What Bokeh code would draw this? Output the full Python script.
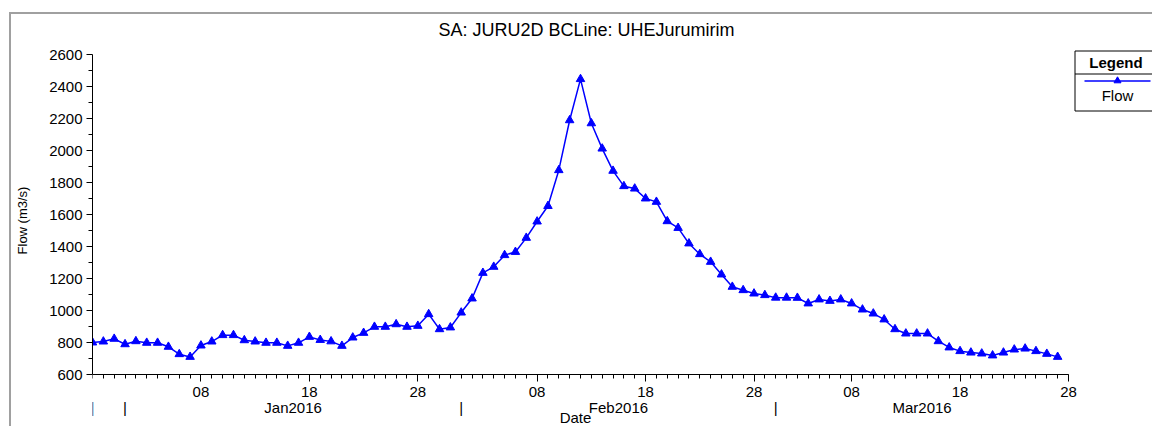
import pandas as pd
from bokeh.plotting import figure
from bokeh.models import (Range1d, FixedTicker, CustomJSTickFormatter, LinearAxis,
                          Label, BoxAnnotation, PolyAnnotation)
from bokeh.embed import file_html
from bokeh.resources import INLINE

# ---- data -------------------------------------------------------------
axis_start = "2015-12-29"
axis_end = "2016-03-28"
first_day = "2015-12-29"
flow = [800, 806, 823, 789, 808, 798, 798, 773, 727, 710,
        781, 806, 846, 846, 814, 806, 798, 798, 779, 798,
        835, 816, 807, 779, 831, 860, 898, 898, 914, 898,
        904, 977, 883, 894, 987, 1075, 1235, 1273, 1346, 1366,
        1454, 1556, 1653, 1877, 2189, 2446, 2170, 2012, 1873, 1777,
        1762, 1700, 1679, 1558, 1516, 1419, 1352, 1304, 1225, 1148,
        1127, 1106, 1096, 1080, 1080, 1079, 1044, 1069, 1060, 1069,
        1044, 1006, 981, 944, 883, 856, 856, 856, 808, 769,
        746, 737, 731, 719, 737, 756, 762, 746, 729, 710]
months = ["2016-01-01", "2016-02-01", "2016-03-01"]
month_names = ["Jan2016", "Feb2016", "Mar2016"]
label_days = [8, 18, 28]
y_lo, y_hi = 600, 2600
y_major = [600, 800, 1000, 1200, 1400, 1600, 1800, 2000, 2200, 2400, 2600]
y_minor = [700, 900, 1100, 1300, 1500, 1700, 1900, 2100, 2300, 2500]

title_text = "SA: JURU2D BCLine: UHEJurumirim"
y_title = "Flow (m3/s)"
x_title = "Date"
legend_title = "Legend"
series_name = "Flow"

# ---- page geometry (pixels from the top-left corner) -------------------
W, H = 1152, 426
LEFT, TOP = 92, 14               # frame starts here and runs to the right/bottom edges
AX_X1 = 1068                     # right end of the date axis
AX_Y_LO, AX_Y_HI = 374, 54       # pixel rows of y_lo and y_hi


def sx(px):
    """page x -> screen offset from the frame's left edge"""
    return px - LEFT


def sy(py):
    """page y -> screen offset from the frame's bottom edge"""
    return H - py


# ---- positions in days from the axis start -----------------------------
t0 = pd.Timestamp(axis_start)
end_off = (pd.Timestamp(axis_end) - t0).days
dates = pd.date_range(first_day, periods=len(flow), freq="D")
x = [int((d - t0).days) for d in dates]

day_pos, day_names = [], []
for m in months:
    for d in label_days:
        off = (pd.Timestamp(m) + pd.Timedelta(days=d - 1) - t0).days
        if 0 <= off <= end_off:
            day_pos.append(int(off))
            day_names.append(f"{d:02d}")

row_pos, row_names = [0.0], ["|"]
m_starts = [(pd.Timestamp(m) - t0).days for m in months]
m_ends = m_starts[1:] + [end_off]
for s, e, name in zip(m_starts, m_ends, month_names):
    row_pos += [float(s), (s + e) / 2.0]
    row_names += ["|", name]

FONT = "Liberation Sans"
BLUE = "#0000ff"
GREY = "#a0a0a0"

px_per_day = (AX_X1 - LEFT) / end_off
px_per_unit = (AX_Y_LO - AX_Y_HI) / (y_hi - y_lo)
x_end = (W - LEFT) / px_per_day
y_start = y_lo - (H - AX_Y_LO) / px_per_unit
y_end = y_lo + (AX_Y_LO - TOP) / px_per_unit

p = figure(width=W, height=H, output_backend="svg", toolbar_location=None,
           title=None, x_range=Range1d(0, x_end), y_range=Range1d(y_start, y_end),
           min_border_left=LEFT, min_border_right=0, min_border_top=TOP,
           min_border_bottom=0, background_fill_color=None,
           border_fill_color=None)
p.outline_line_color = None
p.xgrid.visible = False
p.ygrid.visible = False
# page panel border (left and top edges) behind the transparent canvas
p.styles = {
    "background": (f"linear-gradient({GREY},{GREY}) 9px 12px / 2px 100% no-repeat, "
                   f"linear-gradient({GREY},{GREY}) 9px 12px / 100% 2px no-repeat, "
                   "#ffffff"),
}

# ---- y axis -----------------------------------------------------------
ya = p.yaxis[0]
ya.bounds = (y_lo, y_hi)
ya.ticker = FixedTicker(ticks=y_major, minor_ticks=y_minor)
ya.axis_line_color = "black"
ya.major_tick_line_color = "black"
ya.minor_tick_line_color = "black"
ya.major_tick_in = 0
ya.major_tick_out = 6
ya.minor_tick_in = 0
ya.minor_tick_out = 4
ya.major_label_standoff = 4
ya.major_label_text_font = FONT
ya.major_label_text_font_size = "15px"
ya.major_label_text_color = "black"
ya.axis_label = y_title
ya.axis_label_text_font = FONT
ya.axis_label_text_font_size = "13px"
ya.axis_label_text_font_style = "normal"
ya.axis_label_text_color = "black"
ya.axis_label_standoff = 16

# ---- x axis: day numbers (drawn at y_lo) ------------------------------
xa = p.xaxis[0]
xa.fixed_location = y_lo
xa.bounds = (0, end_off)
xa.ticker = FixedTicker(ticks=day_pos, minor_ticks=list(range(0, end_off + 1)))
xa.formatter = CustomJSTickFormatter(
    args=dict(pos=day_pos, names=day_names),
    code="const i = pos.indexOf(tick); return i < 0 ? '' : names[i];")
xa.axis_line_color = "black"
xa.major_tick_line_color = "black"
xa.minor_tick_line_color = "black"
xa.major_tick_in = 0
xa.major_tick_out = 7
xa.minor_tick_in = 0
xa.minor_tick_out = 4
xa.major_label_standoff = 5
xa.major_label_text_font = FONT
xa.major_label_text_font_size = "15px"
xa.major_label_text_color = "black"

# ---- x axis: month row ------------------------------------------------
ma = LinearAxis(
    fixed_location=y_lo,
    bounds=(0, end_off),
    ticker=FixedTicker(ticks=row_pos, minor_ticks=[]),
    formatter=CustomJSTickFormatter(
        args=dict(pos=row_pos, names=row_names),
        code="const i = pos.indexOf(tick); return i < 0 ? '' : names[i];"),
    axis_line_color=None, major_tick_line_color=None, minor_tick_line_color=None,
    major_tick_in=0, major_tick_out=0, minor_tick_in=0, minor_tick_out=0,
    major_label_standoff=24, major_label_text_font=FONT,
    major_label_text_font_size="15px", major_label_text_color="black")
p.add_layout(ma, "below")

# ---- series -----------------------------------------------------------
p.line(x, flow, line_color=BLUE, line_width=1.5)
p.scatter(x, flow, marker="triangle", size=8.5, fill_color=BLUE, line_color=BLUE)


def text(px, py, s, size, style="normal"):
    p.add_layout(Label(x=sx(px), y=sy(py), x_units="screen", y_units="screen",
                       text=s, text_font=FONT, text_font_size=size,
                       text_font_style=style, text_color="black",
                       text_align="center", text_baseline="middle"))


def poly(xs, ys, **kw):
    p.add_layout(PolyAnnotation(xs=[sx(v) for v in xs], ys=[sy(v) for v in ys],
                                xs_units="screen", ys_units="screen",
                                line_alpha=1.0, **kw))


# ---- titles -------------------------------------------------------------
text(586, 29, title_text, "18px")
text(575, 417, x_title, "15px")

# ---- legend box ---------------------------------------------------------
p.add_layout(BoxAnnotation(left=sx(1074.5), right=sx(1400), top=sy(50.5), bottom=sy(110.5),
                           left_units="screen", right_units="screen",
                           top_units="screen", bottom_units="screen",
                           fill_color="white", fill_alpha=1.0,
                           line_color="black", line_alpha=1.0, line_width=1))
poly([1074.5, 1400], [73.5, 73.5], fill_color=None, line_color="black", line_width=1)
poly([1084, 1150], [80.5, 80.5], fill_color=None, line_color=BLUE, line_width=1.5)
poly([1113.5, 1120.5, 1117], [82.3, 82.3, 76.3], fill_color=BLUE, fill_alpha=1.0,
     line_color=BLUE, line_width=1)
text(1115.5, 62, legend_title, "15px", "bold")
text(1117, 95, series_name, "15px")

open("out.html", "w").write(file_html(p, INLINE))
